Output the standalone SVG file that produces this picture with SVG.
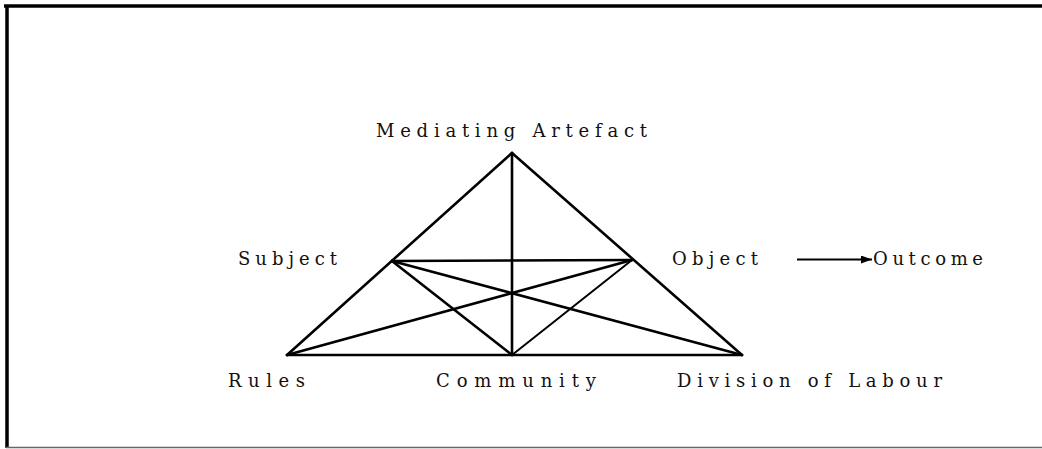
<svg xmlns="http://www.w3.org/2000/svg" width="1042" height="449" viewBox="0 0 1042 449">
<style>
text{font-family:"DejaVu Serif","Liberation Serif",serif;font-size:18px;fill:#111;}
.e{stroke:#000;stroke-width:2.6;stroke-linecap:round;fill:none;}
.t{stroke-width:2;}
</style>
<defs>
<marker id="ah" markerWidth="11" markerHeight="8" refX="11" refY="4" orient="auto" markerUnits="userSpaceOnUse">
<path d="M0,0 L11,4 L0,8 Z" fill="#000"/>
</marker>
</defs>
<rect width="1042" height="449" fill="#fff"/>
<g id="frame">
<line x1="4" y1="6" x2="1042" y2="6" stroke="#000" stroke-width="3.5"/>
<line x1="7" y1="5" x2="7" y2="448" stroke="#000" stroke-width="3.5"/>
<line x1="6" y1="447.5" x2="1042" y2="447.5" stroke="#666" stroke-width="1.5"/>
</g>
<g id="connectors">
<line class="e" x1="287" y1="355" x2="512" y2="153"/>
<line class="e" x1="512" y1="153" x2="742" y2="355"/>
<line class="e" x1="287" y1="355" x2="742" y2="355"/>
<line class="e" x1="512" y1="153" x2="512" y2="355"/>
<line class="e" x1="392" y1="261" x2="632" y2="260"/>
<line class="e" x1="392" y1="261" x2="512" y2="355"/>
<line class="e t" x1="632" y1="260" x2="512" y2="355"/>
<line class="e" x1="392" y1="261" x2="742" y2="355"/>
<line class="e" x1="287" y1="355" x2="632" y2="260"/>
<line x1="797" y1="259.5" x2="872" y2="259.5" stroke="#000" stroke-width="2" marker-end="url(#ah)"/>
</g>
<g id="mediating-artefact"><text x="376" y="137" textLength="271" lengthAdjust="spacing">Mediating Artefact</text></g>
<g id="subject"><text x="238" y="265" textLength="99" lengthAdjust="spacing">Subject</text></g>
<g id="object"><text x="672" y="265" textLength="86" lengthAdjust="spacing">Object</text></g>
<g id="outcome"><text x="873" y="265" textLength="110" lengthAdjust="spacing">Outcome</text></g>
<g id="rules"><text x="228" y="387" textLength="77" lengthAdjust="spacing">Rules</text></g>
<g id="community"><text x="436" y="387" textLength="160" lengthAdjust="spacing">Community</text></g>
<g id="division-of-labour"><text x="677" y="387" textLength="265" lengthAdjust="spacing">Division of Labour</text></g>
</svg>
